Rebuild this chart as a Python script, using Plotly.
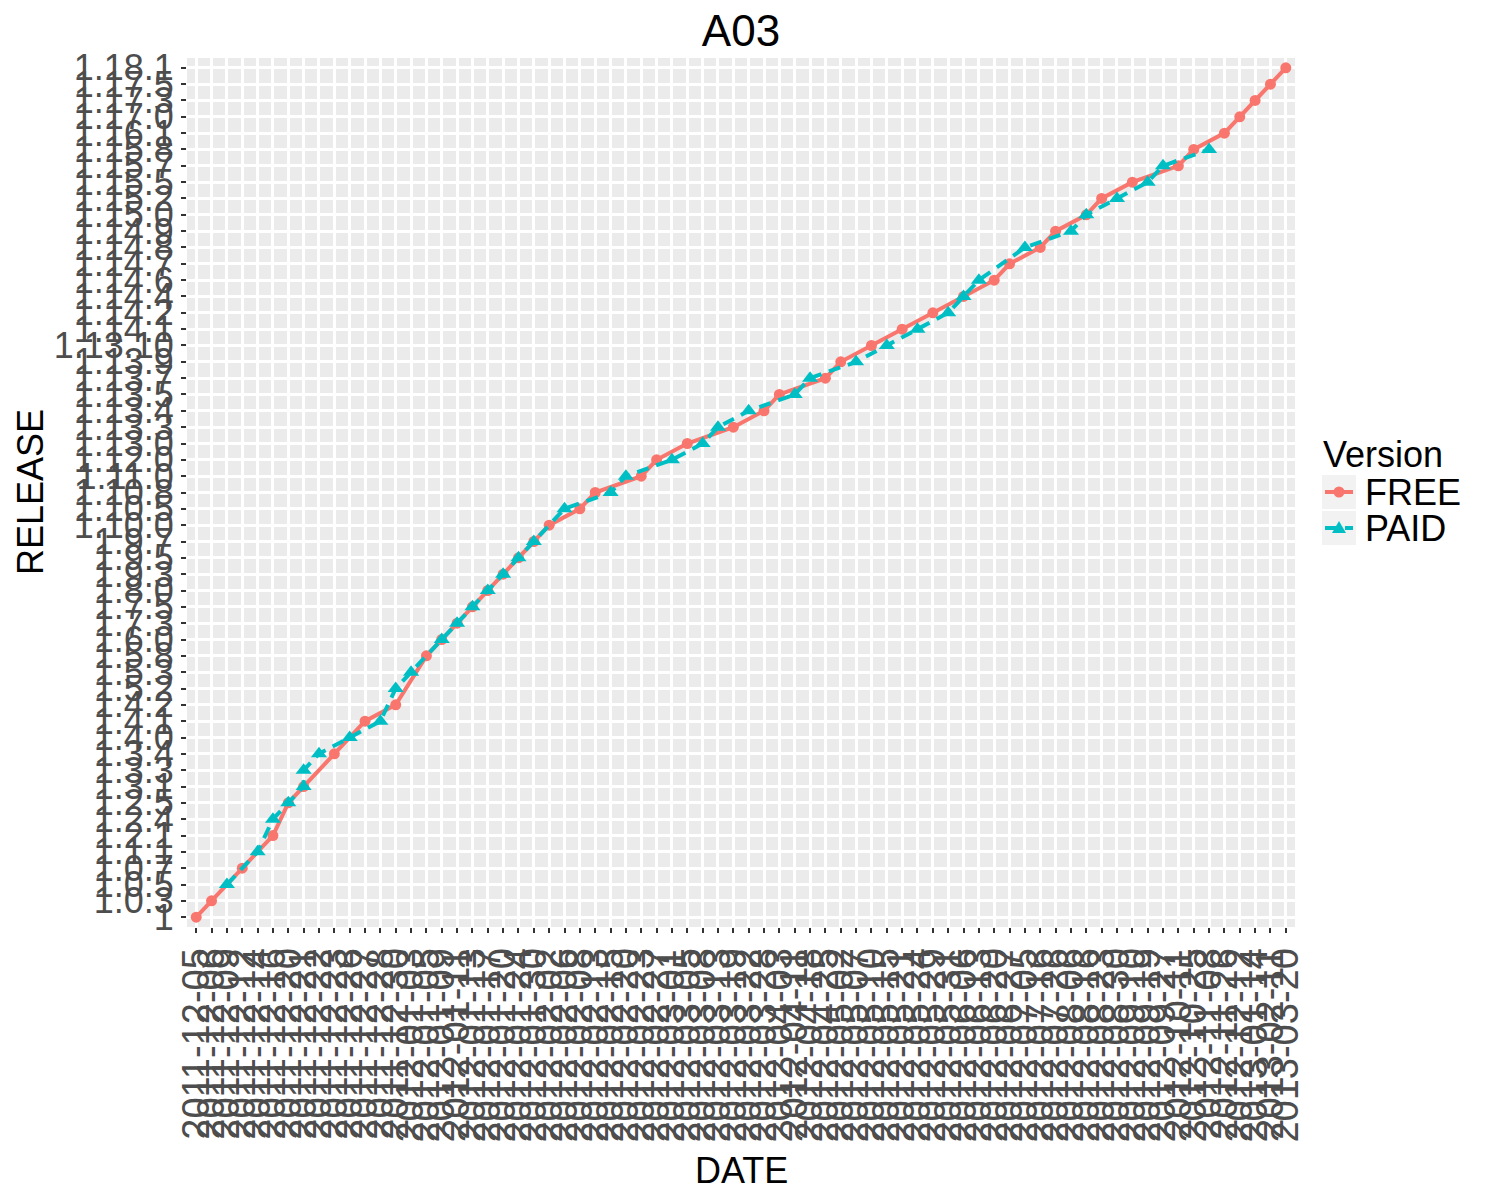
import plotly.graph_objects as go

# ---- categories ----
dates = [
    "2011-12-05", "2011-12-06", "2011-12-09", "2011-12-12", "2011-12-14", "2011-12-16",
    "2011-12-20", "2011-12-21", "2011-12-22", "2011-12-23", "2011-12-26", "2011-12-27",
    "2011-12-28", "2011-12-30",
    "2012-01-03", "2012-01-05", "2012-01-09", "2012-01-11", "2012-01-13", "2012-01-17",
    "2012-01-20", "2012-01-24", "2012-01-30",
    "2012-02-02", "2012-02-06", "2012-02-08", "2012-02-13", "2012-02-15", "2012-02-20",
    "2012-02-23", "2012-02-27",
    "2012-03-01", "2012-03-05", "2012-03-08", "2012-03-13", "2012-03-19", "2012-03-22",
    "2012-03-28",
    "2012-04-03", "2012-04-11", "2012-04-18", "2012-04-25",
    "2012-05-02", "2012-05-07", "2012-05-10", "2012-05-15", "2012-05-21", "2012-05-24",
    "2012-05-29", "2012-05-31",
    "2012-06-06", "2012-06-13", "2012-06-20", "2012-06-27",
    "2012-07-05", "2012-07-16", "2012-07-26",
    "2012-08-06", "2012-08-16", "2012-08-23", "2012-08-30",
    "2012-09-10", "2012-09-19", "2012-09-27",
    "2012-10-11", "2012-10-25",
    "2012-11-08", "2012-11-26",
    "2012-12-12",
    "2013-01-14", "2013-02-11", "2013-03-20",
]

releases = [
    "1", "1.0.3", "1.0.5", "1.0.7", "1.1.1", "1.2.1", "1.2.4", "1.2.5", "1.3.1", "1.3.3",
    "1.3.4", "1.4.0", "1.4.1", "1.4.2", "1.5.2", "1.5.3", "1.5.8", "1.6.0", "1.7.3", "1.7.5",
    "1.8.0", "1.9.3", "1.9.5", "1.9.7", "1.10.0", "1.10.5", "1.10.8", "1.11.0", "1.12.0",
    "1.13.0", "1.13.3", "1.13.4", "1.13.5", "1.13.7", "1.13.9", "1.13.10", "1.14.1", "1.14.2",
    "1.14.4", "1.14.6", "1.14.7", "1.14.8", "1.14.9", "1.15.0", "1.15.2", "1.15.5", "1.15.7",
    "1.15.8", "1.16.1", "1.17.0", "1.17.3", "1.17.5", "1.18.1",
]

# ---- FREE series ----
free_dates = [
    "2011-12-05", "2011-12-06", "2011-12-12", "2011-12-16", "2011-12-20", "2011-12-21",
    "2011-12-23", "2011-12-27", "2011-12-30", "2012-01-05", "2012-01-09", "2012-01-11",
    "2012-01-13", "2012-01-17", "2012-01-20", "2012-01-24", "2012-01-30", "2012-02-02",
    "2012-02-08", "2012-02-13", "2012-02-23", "2012-02-27", "2012-03-05", "2012-03-19",
    "2012-03-28", "2012-04-03", "2012-04-25", "2012-05-02", "2012-05-10", "2012-05-21",
    "2012-05-29", "2012-06-06", "2012-06-20", "2012-06-27", "2012-07-16", "2012-07-26",
    "2012-08-16", "2012-08-23", "2012-09-10", "2012-10-11", "2012-10-25", "2012-11-26",
    "2012-12-12", "2013-01-14", "2013-02-11", "2013-03-20",
]
free_release = [
    "1", "1.0.3", "1.0.7", "1.2.1", "1.2.5", "1.3.1",
    "1.3.4", "1.4.1", "1.4.2", "1.5.8", "1.6.0", "1.7.3",
    "1.7.5", "1.8.0", "1.9.3", "1.9.5", "1.9.7", "1.10.0",
    "1.10.5", "1.10.8", "1.11.0", "1.12.0", "1.13.0", "1.13.3",
    "1.13.4", "1.13.5", "1.13.7", "1.13.9", "1.13.10", "1.14.1",
    "1.14.2", "1.14.4", "1.14.6", "1.14.7", "1.14.8", "1.14.9",
    "1.15.0", "1.15.2", "1.15.5", "1.15.7", "1.15.8", "1.16.1",
    "1.17.0", "1.17.3", "1.17.5", "1.18.1",
]

# ---- PAID series ----
paid_dates = [
    "2011-12-09", "2011-12-14", "2011-12-16", "2011-12-20", "2011-12-21", "2011-12-21",
    "2011-12-22", "2011-12-26", "2011-12-28", "2011-12-30", "2012-01-03", "2012-01-09",
    "2012-01-11", "2012-01-13", "2012-01-17", "2012-01-20", "2012-01-24", "2012-01-30",
    "2012-02-06", "2012-02-15", "2012-02-20", "2012-03-01", "2012-03-08", "2012-03-13",
    "2012-03-22", "2012-04-11", "2012-04-18", "2012-05-07", "2012-05-15", "2012-05-24",
    "2012-05-31", "2012-06-06", "2012-06-13", "2012-07-05", "2012-08-06", "2012-08-16",
    "2012-08-30", "2012-09-19", "2012-09-27", "2012-11-08",
]
paid_release = [
    "1.0.5", "1.1.1", "1.2.4", "1.2.5", "1.3.1", "1.3.3",
    "1.3.4", "1.4.0", "1.4.1", "1.5.2", "1.5.3", "1.6.0",
    "1.7.3", "1.7.5", "1.8.0", "1.9.3", "1.9.5", "1.9.7",
    "1.10.5", "1.10.8", "1.11.0", "1.12.0", "1.13.0", "1.13.3",
    "1.13.4", "1.13.5", "1.13.7", "1.13.9", "1.13.10", "1.14.1",
    "1.14.2", "1.14.4", "1.14.6", "1.14.8", "1.14.9", "1.15.0",
    "1.15.2", "1.15.5", "1.15.7", "1.15.8",
]

series_names = ["FREE", "PAID"]
legend_title = "Version"

FREE_COL = "#F8766D"
PAID_COL = "#00BFC4"
FONT = "Liberation Sans, Arial, Helvetica, sans-serif"

# plot-area geometry (pixels)
W, H = 1500, 1200
ML, MR, MT, MB = 187, 205, 58, 273
PW, PH = W - ML - MR, H - MT - MB


def px_x(px):
    return (px - ML) / PW


def px_y(py):
    return (H - MB - py) / PH


fig = go.Figure()
fig.add_trace(go.Scatter(
    x=free_dates, y=free_release, name=series_names[0], mode="lines+markers",
    line=dict(color=FREE_COL, width=4),
    marker=dict(symbol="circle", size=11, color=FREE_COL),
    showlegend=False,
))
fig.add_trace(go.Scatter(
    x=paid_dates, y=paid_release, name=series_names[1], mode="lines+markers",
    line=dict(color=PAID_COL, width=4, dash="12px,8px"),
    marker=dict(symbol="triangle-up", size=14, color=PAID_COL),
    showlegend=False,
))

axis_common = dict(
    type="category",
    showgrid=True, gridcolor="white", gridwidth=2.5,
    zeroline=False, showline=False,
    ticks="outside", ticklen=5, tickwidth=2, tickcolor="#333333",
    automargin=False,
    tickmode="array",
)

fig.update_xaxes(
    **axis_common,
    tickfont=dict(family=FONT, size=38, color="#4D4D4D"),
    categoryorder="array", categoryarray=dates,
    tickvals=dates, ticktext=dates,
    tickangle=-90,
    range=[-0.6, len(dates) - 0.4],
)
fig.update_yaxes(
    **axis_common,
    tickfont=dict(family=FONT, size=36, color="#4D4D4D"),
    categoryorder="array", categoryarray=releases,
    tickvals=releases, ticktext=releases,
    range=[-0.6, len(releases) - 0.4],
)

# ---- legend (ggplot-style keys) ----
shapes = []
annotations = []
key_x0, key_x1 = 1322, 1356
key_rows = [(475, 509), (511, 545)]
colors = [FREE_COL, PAID_COL]
for k, (y0, y1) in enumerate(key_rows):
    cy = (y0 + y1) / 2
    shapes.append(dict(type="rect", xref="paper", yref="paper",
                       x0=px_x(key_x0), x1=px_x(key_x1), y0=px_y(y1), y1=px_y(y0),
                       fillcolor="#F2F2F2", line=dict(width=0), layer="above"))
    shapes.append(dict(type="line", xref="paper", yref="paper",
                       x0=px_x(key_x0 + 3), x1=px_x(key_x1 - 3), y0=px_y(cy), y1=px_y(cy),
                       line=dict(color=colors[k], width=4,
                                 dash="solid" if k == 0 else "12px,8px"),
                       layer="above"))
    cx = (key_x0 + key_x1) / 2
    if k == 0:
        r = 5.5
        shapes.append(dict(type="circle", xref="paper", yref="paper",
                           x0=px_x(cx - r), x1=px_x(cx + r), y0=px_y(cy + r), y1=px_y(cy - r),
                           fillcolor=colors[k], line=dict(width=0), layer="above"))
    else:
        shapes.append(dict(type="path", xref="paper", yref="paper",
                           xsizemode="pixel", ysizemode="pixel",
                           xanchor=px_x(cx), yanchor=px_y(cy),
                           path="M -7 -5 L 7 -5 L 0 7 Z",
                           fillcolor=colors[k], line=dict(width=0), layer="above"))
    annotations.append(dict(text=series_names[k], xref="paper", yref="paper",
                            x=px_x(1363), y=px_y(cy), xanchor="left", yanchor="middle",
                            showarrow=False,
                            font=dict(family=FONT, size=36, color="black")))

annotations.append(dict(text=legend_title, xref="paper", yref="paper",
                        x=px_x(1321), y=px_y(454), xanchor="left", yanchor="middle",
                        showarrow=False, font=dict(family=FONT, size=36, color="black")))
annotations.append(dict(text="DATE", xref="paper", yref="paper", x=0.5, y=px_y(1170),
                        xanchor="center", yanchor="middle", showarrow=False,
                        font=dict(family=FONT, size=36, color="black")))
annotations.append(dict(text="RELEASE", xref="paper", yref="paper", x=px_x(30), y=px_y(492),
                        xanchor="center", yanchor="middle", showarrow=False, textangle=-90,
                        font=dict(family=FONT, size=36, color="black")))

fig.update_layout(
    width=W, height=H,
    margin=dict(l=ML, r=MR, t=MT, b=MB),
    paper_bgcolor="white", plot_bgcolor="#EBEBEB",
    font=dict(family=FONT, size=36, color="black"),
    title=dict(text="A03", x=0.5, xref="paper", xanchor="center",
               y=1 - 31 / 1200, yref="container", yanchor="middle",
               font=dict(family=FONT, size=44, color="black")),
    showlegend=False,
    shapes=shapes,
    annotations=annotations,
)

fig.write_html("out.html")
